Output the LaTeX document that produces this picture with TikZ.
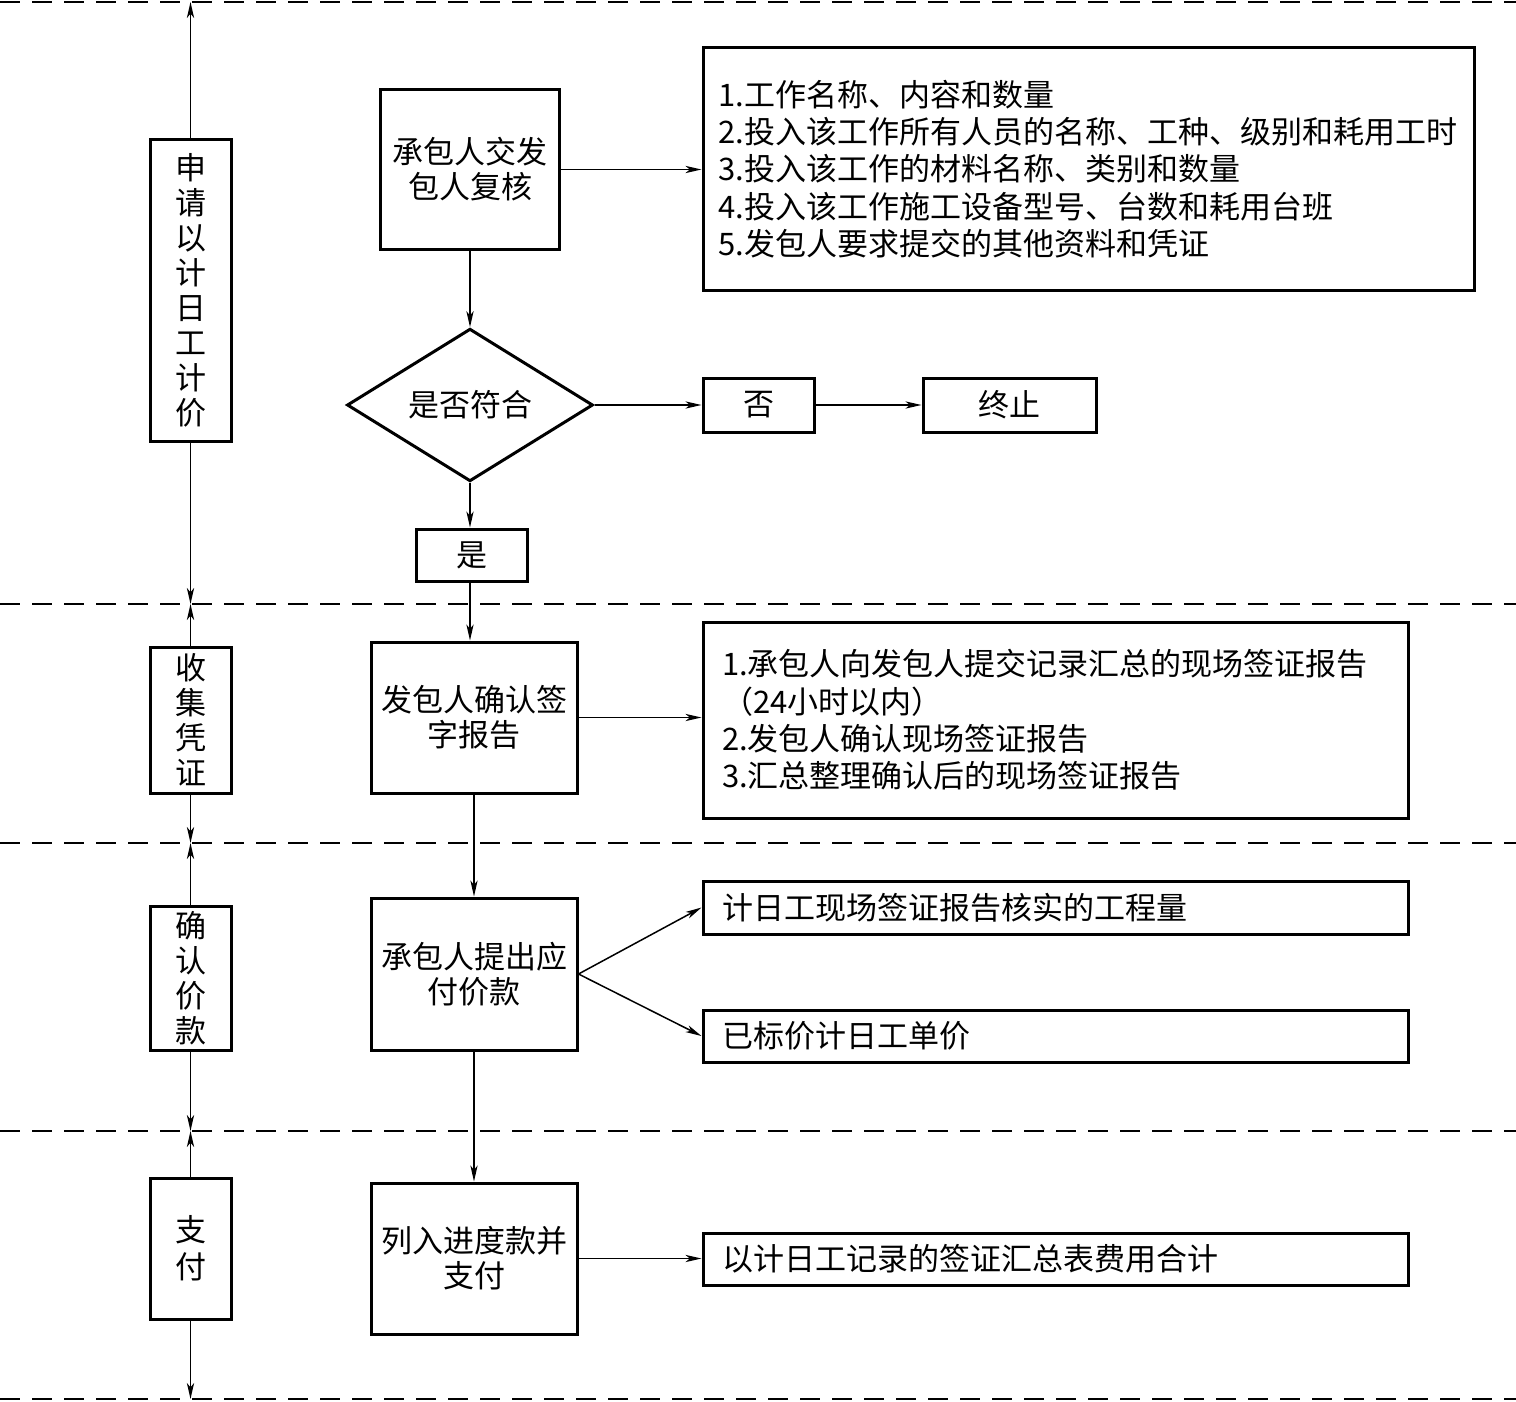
\documentclass[tikz,border=0pt]{standalone}
\usepackage{fontspec}
\setmainfont{Noto Sans CJK SC}
\usetikzlibrary{arrows.meta,shapes.geometric}
\begin{document}
\begin{tikzpicture}[x=0.5pt,y=-0.5pt,
  box/.style={draw,line width=1.5pt,inner sep=0pt,align=center,
    font=\fontsize{15.5}{17.5}\selectfont},
  sidebox/.style={box,minimum width=40.5pt},
  infobox/.style={box,align=left,inner xsep=9.5pt,
    font=\fontsize{15.5}{18.6}\selectfont},
  decision/.style={draw,line width=1.5pt,diamond,inner sep=0pt,
    minimum width=123pt,minimum height=75pt,
    font=\fontsize{15.5}{17.5}\selectfont},
  arr/.style={line width=0.75pt,-{Stealth[length=8pt,width=3.6pt,inset=2.2pt]}},
  sep/.style={line width=1pt,dash pattern=on 10pt off 6pt}]
\useasboundingbox (0,0) rectangle (1516,1402);

% dashed separators
\coordinate (d0) at (0,2);    \coordinate (d0e) at (1516,2);
\coordinate (d1) at (0,604);  \coordinate (d1e) at (1516,604);
\coordinate (d2) at (0,843);  \coordinate (d2e) at (1516,843);
\coordinate (d3) at (0,1131); \coordinate (d3e) at (1516,1131);
\coordinate (d4) at (0,1399); \coordinate (d4e) at (1516,1399);
\foreach \a in {0,1,2,3,4} {\draw[sep] (d\a) -- (d\a e);}

% left phase boxes
\node[sidebox,minimum height=150.5pt] (L1) at (190.5,290.5) {申\\请\\以\\计\\日\\工\\计\\价};
\node[sidebox,minimum height=73pt] (L2) at (190.5,720) {收\\集\\凭\\证};
\node[sidebox,minimum height=72pt] (L3) at (190.5,978) {确\\认\\价\\款};
\node[sidebox,minimum height=70.5pt,font=\fontsize{15.5}{18.5}\selectfont] (L4) at (190.5,1248.5) {支\\付};

\draw[arr] (L1.north) -- (L1.north |- d0);
\draw[arr] (L1.south) -- (L1.south |- d1);
\draw[arr] (L2.north) -- (L2.north |- d1);
\draw[arr] (L2.south) -- (L2.south |- d2);
\draw[arr] (L3.north) -- (L3.north |- d2);
\draw[arr] (L3.south) -- (L3.south |- d3);
\draw[arr] (L4.north) -- (L4.north |- d3);
\draw[arr] (L4.south) -- (L4.south |- d4);

% main flow
\node[box,minimum width=89.5pt,minimum height=79.5pt] (A) at (470,169.5) {承包人交发\\包人复核};
\node[infobox,inner xsep=7.75pt,minimum height=121pt,text width=370pt] (I1) at (1088.5,169) {1.工作名称、内容和数量\\
2.投入该工作所有人员的名称、工种、级别和耗用工时\\
3.投入该工作的材料名称、类别和数量\\
4.投入该工作施工设备型号、台数和耗用台班\\
5.发包人要求提交的其他资料和凭证};
\node[decision] (Q) at (470,405) {是否符合};
\node[box,minimum width=55.5pt,minimum height=27pt] (N) at (758.5,405) {否};
\node[box,minimum width=86.5pt,minimum height=27pt] (T) at (1009.5,405) {终止};
\node[box,minimum width=55.5pt,minimum height=26pt] (Y) at (472,555) {是};

\node[box,minimum width=103pt,minimum height=75.5pt] (B) at (474,717.5) {发包人确认签\\字报告};
\node[infobox,minimum height=98pt,text width=333.5pt] (I2) at (1055.5,720) {1.承包人向发包人提交记录汇总的现场签证报告\\
（24小时以内）\\
2.发包人确认现场签证报告\\
3.汇总整理确认后的现场签证报告};

\node[box,minimum width=103pt,minimum height=76pt] (C) at (474,974) {承包人提出应\\付价款};
\node[infobox,minimum height=26.5pt,text width=333.5pt] (D1) at (1055.5,907.5) {计日工现场签证报告核实的工程量};
\node[infobox,minimum height=26pt,text width=333.5pt] (D2) at (1055.5,1036) {已标价计日工单价};

\node[box,minimum width=103pt,minimum height=75.5pt] (E) at (474,1258.5) {列入进度款并\\支付};
\node[infobox,minimum height=26pt,text width=333.5pt] (F) at (1055.5,1259) {以计日工记录的签证汇总表费用合计};

% connectors
\draw[arr] (A.east) -- (A.east -| I1.west);
\draw[arr] (A.south) -- (Q.north);
\draw[arr] (Q.east) -- (N.west);
\draw[arr] (N.east) -- (T.west);
\draw[arr] (Q.south) -- (Q.south |- Y.north);
\draw[arr] (Q.south |- Y.south) -- (Q.south |- B.north);
\draw[arr] (B.east) -- (B.east -| I2.west);
\draw[arr] (B.south) -- (C.north);
\draw[arr] (C.east) -- (D1.west);
\draw[arr] (C.east) -- (D2.west);
\draw[arr] (C.south) -- (E.north);
\draw[arr] (E.east) -- (E.east -| F.west);
\end{tikzpicture}
\end{document}
